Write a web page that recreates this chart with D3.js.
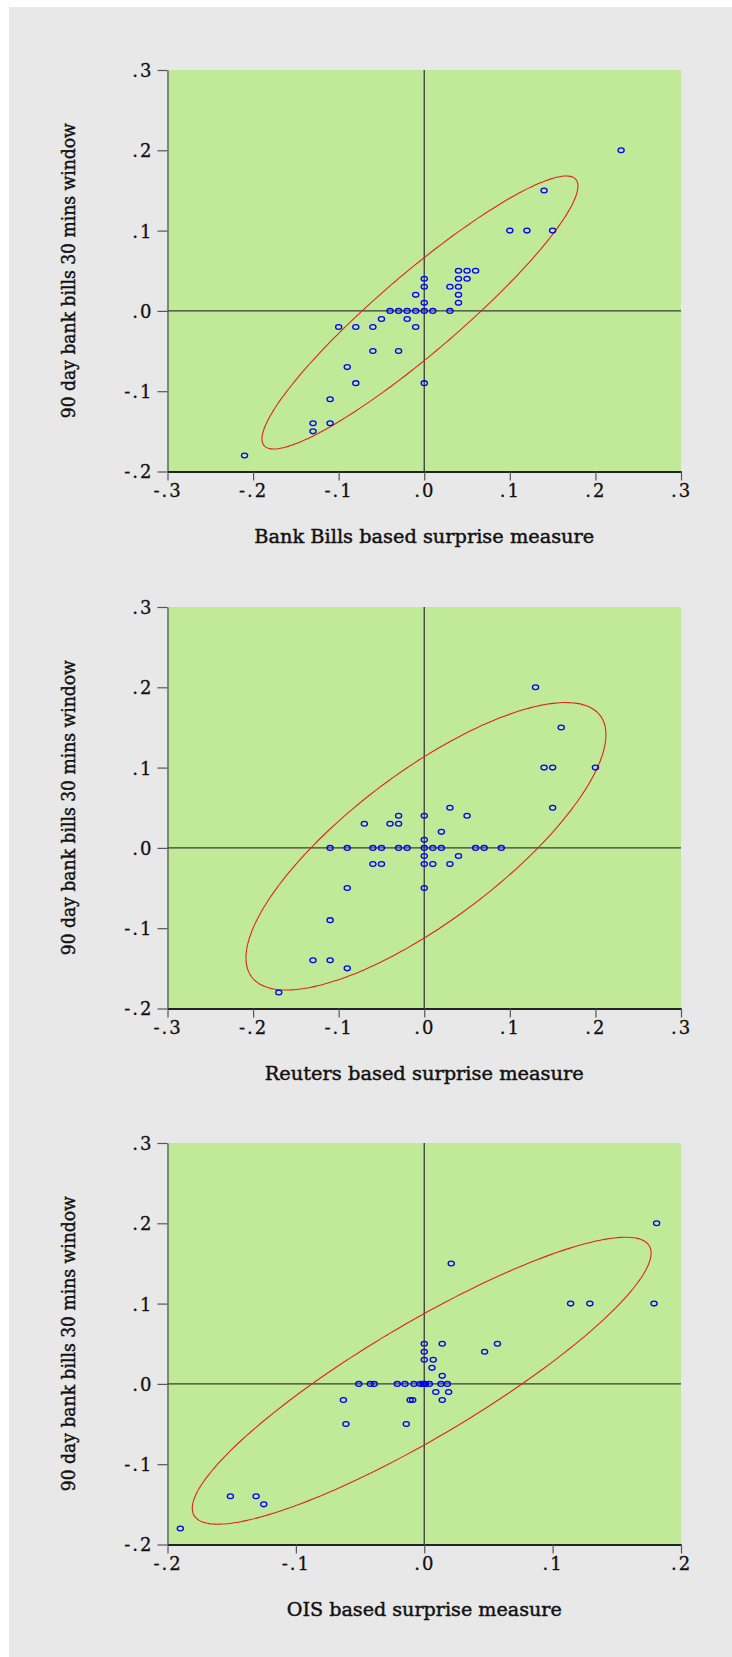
<!DOCTYPE html>
<html>
<head>
<meta charset="utf-8">
<script src="https://cdn.jsdelivr.net/npm/d3@7"></script>
<style>
  html, body { margin: 0; padding: 0; background: #ffffff; }
  svg { display: block; }
</style>
</head>
<body>
<svg id="chart" width="732" height="1657"></svg>
<script>
// Response of 90 day bank bills (30 min window) against three surprise measures.

const yTicks = [-0.2, -0.1, 0.0, 0.1, 0.2, 0.3];
const xTicksWide = [-0.3, -0.2, -0.1, 0.0, 0.1, 0.2, 0.3];
const xTicksNarrow = [-0.2, -0.1, 0.0, 0.1, 0.2];

const yTitle = "90 day bank bills 30 mins window";
const xTitles = ["Bank Bills based surprise measure", "Reuters based surprise measure", "OIS based surprise measure"];

// Bank Bills based surprise
const bankBillsX = [0.23, 0.14, 0.10, 0.12, 0.15, 0.04, 0.05, 0.06, 0.00, 0.04, 0.05, 0.00, 0.03, 0.04,
  -0.01, 0.04, 0.00, 0.04, -0.04, -0.03, -0.02, -0.01, 0.00, 0.01, 0.03, -0.05, -0.02,
  -0.10, -0.08, -0.06, -0.01, -0.06, -0.03, -0.09, -0.08, 0.00, -0.11, -0.13, -0.11, -0.13, -0.21];
const bankBillsY = [0.20, 0.15, 0.10, 0.10, 0.10, 0.05, 0.05, 0.05, 0.04, 0.04, 0.04, 0.03, 0.03, 0.03,
  0.02, 0.02, 0.01, 0.01, 0.00, 0.00, 0.00, 0.00, 0.00, 0.00, 0.00, -0.01, -0.01,
  -0.02, -0.02, -0.02, -0.02, -0.05, -0.05, -0.07, -0.09, -0.09, -0.11, -0.14, -0.14, -0.15, -0.18];

// Reuters based surprise
const reutersX = [0.13, 0.16, 0.14, 0.15, 0.20, 0.15, 0.03, 0.05, 0.00, -0.03, -0.07, -0.04, -0.03, 0.02, 0.00,
  -0.11, -0.09, -0.06, -0.05, -0.03, -0.02, 0.00, 0.01, 0.02, 0.06, 0.07, 0.09,
  0.00, 0.04, -0.06, -0.05, 0.00, 0.01, 0.03, -0.09, 0.00, -0.11, -0.13, -0.11, -0.09, -0.17];
const reutersY = [0.20, 0.15, 0.10, 0.10, 0.10, 0.05, 0.05, 0.04, 0.04, 0.04, 0.03, 0.03, 0.03, 0.02, 0.01,
  0.00, 0.00, 0.00, 0.00, 0.00, 0.00, 0.00, 0.00, 0.00, 0.00, 0.00, 0.00,
  -0.01, -0.01, -0.02, -0.02, -0.02, -0.02, -0.02, -0.05, -0.05, -0.09, -0.14, -0.14, -0.15, -0.18];

// OIS based surprise
const oisX = [0.181, 0.021, 0.114, 0.129, 0.179, 0.000, 0.014, 0.057, 0.047, 0.000, 0.000, 0.007, 0.006, 0.014,
  -0.051, -0.042, -0.039, -0.021, -0.015, -0.008, -0.003, -0.001, 0.000, 0.001, 0.004, 0.013, 0.018,
  0.009, 0.019, -0.063, -0.011, -0.009, 0.014, -0.061, -0.014, -0.151, -0.131, -0.125, -0.190];
const oisY = [0.20, 0.15, 0.10, 0.10, 0.10, 0.05, 0.05, 0.05, 0.04, 0.04, 0.03, 0.03, 0.02, 0.01,
  0.00, 0.00, 0.00, 0.00, 0.00, 0.00, 0.00, 0.00, 0.00, 0.00, 0.00, 0.00, 0.00,
  -0.01, -0.01, -0.02, -0.02, -0.02, -0.02, -0.05, -0.05, -0.14, -0.14, -0.15, -0.18];

// Confidence ellipses: [centre x, centre y, half-extent x, half-extent y, correlation]
const bankBillsEllipse = [-0.005, -0.002, 0.1846, 0.170, 0.926];
const reutersEllipse = [0.002, 0.002, 0.2103, 0.179, 0.776];
const oisEllipse = [-0.002, 0.004, 0.1787, 0.1787, 0.889];

const panels = [
  { xs: bankBillsX, ys: bankBillsY, ell: bankBillsEllipse, xDomain: [-0.3, 0.3], xTicks: xTicksWide, title: xTitles[0], titleLen: 340, top: 70 },
  { xs: reutersX, ys: reutersY, ell: reutersEllipse, xDomain: [-0.3, 0.3], xTicks: xTicksWide, title: xTitles[1], titleLen: 319, top: 607 },
  { xs: oisX, ys: oisY, ell: oisEllipse, xDomain: [-0.2, 0.2], xTicks: xTicksNarrow, title: xTitles[2], titleLen: 275, top: 1143 }
];

const plotLeft = 167.5, plotRight = 681, plotH = 401.5;
const fontFamily = "'DejaVu Serif', 'Liberation Serif', serif";

// ".3", "-.2", ".0" style labels with an ASCII hyphen for the sign
const tickFmt = v => {
  const s = (+v).toFixed(1);
  return s.replace(/^(-?)0\./, "$1.");
};

const svg = d3.select("#chart");

// page background
svg.append("rect").attr("x", 9).attr("y", 7).attr("width", 732 - 9).attr("height", 1657 - 7).attr("fill", "#e8e8e8");

panels.forEach(p => {
  const x = d3.scaleLinear().domain(p.xDomain).range([plotLeft, plotRight]);
  const y = d3.scaleLinear().domain([-0.2, 0.3]).range([p.top + plotH, p.top]);
  const g = svg.append("g");

  // plot area
  g.append("rect")
    .attr("x", x.range()[0]).attr("y", y.range()[1])
    .attr("width", x.range()[1] - x.range()[0]).attr("height", y.range()[0] - y.range()[1])
    .attr("fill", "#c0ea97");

  // zero lines
  g.append("line")
    .attr("x1", x(0)).attr("x2", x(0)).attr("y1", y(0.3)).attr("y2", y(-0.2))
    .attr("stroke", "#3a3a3a").attr("stroke-width", 1.3);
  g.append("line")
    .attr("x1", x(p.xDomain[0])).attr("x2", x(p.xDomain[1])).attr("y1", y(0)).attr("y2", y(0))
    .attr("stroke", "#3a3a3a").attr("stroke-width", 1.3);

  // ellipse
  const [cx, cy, sx, sy, rho] = p.ell;
  const k = Math.sqrt(1 - rho * rho);
  const pts = d3.range(0, 360, 2).map(deg => {
    const t = deg * Math.PI / 180;
    return [x(cx + sx * Math.cos(t)), y(cy + sy * (rho * Math.cos(t) + k * Math.sin(t)))];
  });
  g.append("path")
    .attr("d", d3.line().curve(d3.curveCardinalClosed)(pts))
    .attr("fill", "none").attr("stroke", "#e3231c").attr("stroke-width", 1.1);

  // markers
  g.selectAll("ellipse.pt").data(p.xs.map((v, i) => [v, p.ys[i]])).join("ellipse")
    .attr("class", "pt")
    .attr("cx", d => x(d[0])).attr("cy", d => y(d[1]))
    .attr("rx", 3.1).attr("ry", 2.4)
    .attr("fill", "none").attr("stroke", "#0000ff").attr("stroke-width", 1.3);

  // axes
  const yAxis = g.append("g").attr("transform", `translate(${plotLeft},0)`)
    .call(d3.axisLeft(y).tickValues(yTicks).tickFormat(tickFmt).tickSize(10).tickSizeOuter(0).tickPadding(4));
  yAxis.select(".domain").attr("stroke", "#555").attr("stroke-width", 1.3);
  yAxis.selectAll(".tick line").attr("stroke", "#555").attr("stroke-width", 1.2);
  yAxis.selectAll(".tick text")
    .attr("font-family", fontFamily).attr("font-size", 18).attr("fill", "#111")
    .attr("stroke", "#111").attr("stroke-width", 0.3)
    .attr("letter-spacing", "2px").attr("dy", "0.36em");

  const xAxis = g.append("g").attr("transform", `translate(0,${p.top + plotH})`)
    .call(d3.axisBottom(x).tickValues(p.xTicks).tickFormat(tickFmt).tickSize(9).tickSizeOuter(0).tickPadding(4));
  xAxis.select(".domain").attr("stroke", "#222").attr("stroke-width", 1.8);
  xAxis.selectAll(".tick line").attr("stroke", "#555").attr("stroke-width", 1.2);
  xAxis.selectAll(".tick text")
    .attr("font-family", fontFamily).attr("font-size", 18).attr("fill", "#111")
    .attr("stroke", "#111").attr("stroke-width", 0.3)
    .attr("letter-spacing", "2px");

  // axis titles
  g.append("text")
    .attr("x", (plotLeft + plotRight) / 2).attr("y", p.top + plotH + 71)
    .attr("text-anchor", "middle")
    .attr("font-family", fontFamily).attr("font-size", 19).attr("fill", "#111")
    .attr("stroke", "#111").attr("stroke-width", 0.45)
    .attr("textLength", p.titleLen).attr("lengthAdjust", "spacingAndGlyphs")
    .text(p.title);

  g.append("text")
    .attr("transform", `translate(75,${p.top + plotH / 2}) rotate(-90)`)
    .attr("text-anchor", "middle")
    .attr("font-family", fontFamily).attr("font-size", 19).attr("fill", "#111")
    .attr("stroke", "#111").attr("stroke-width", 0.45)
    .attr("textLength", 295).attr("lengthAdjust", "spacingAndGlyphs")
    .text(yTitle);
});
</script>
</body>
</html>
